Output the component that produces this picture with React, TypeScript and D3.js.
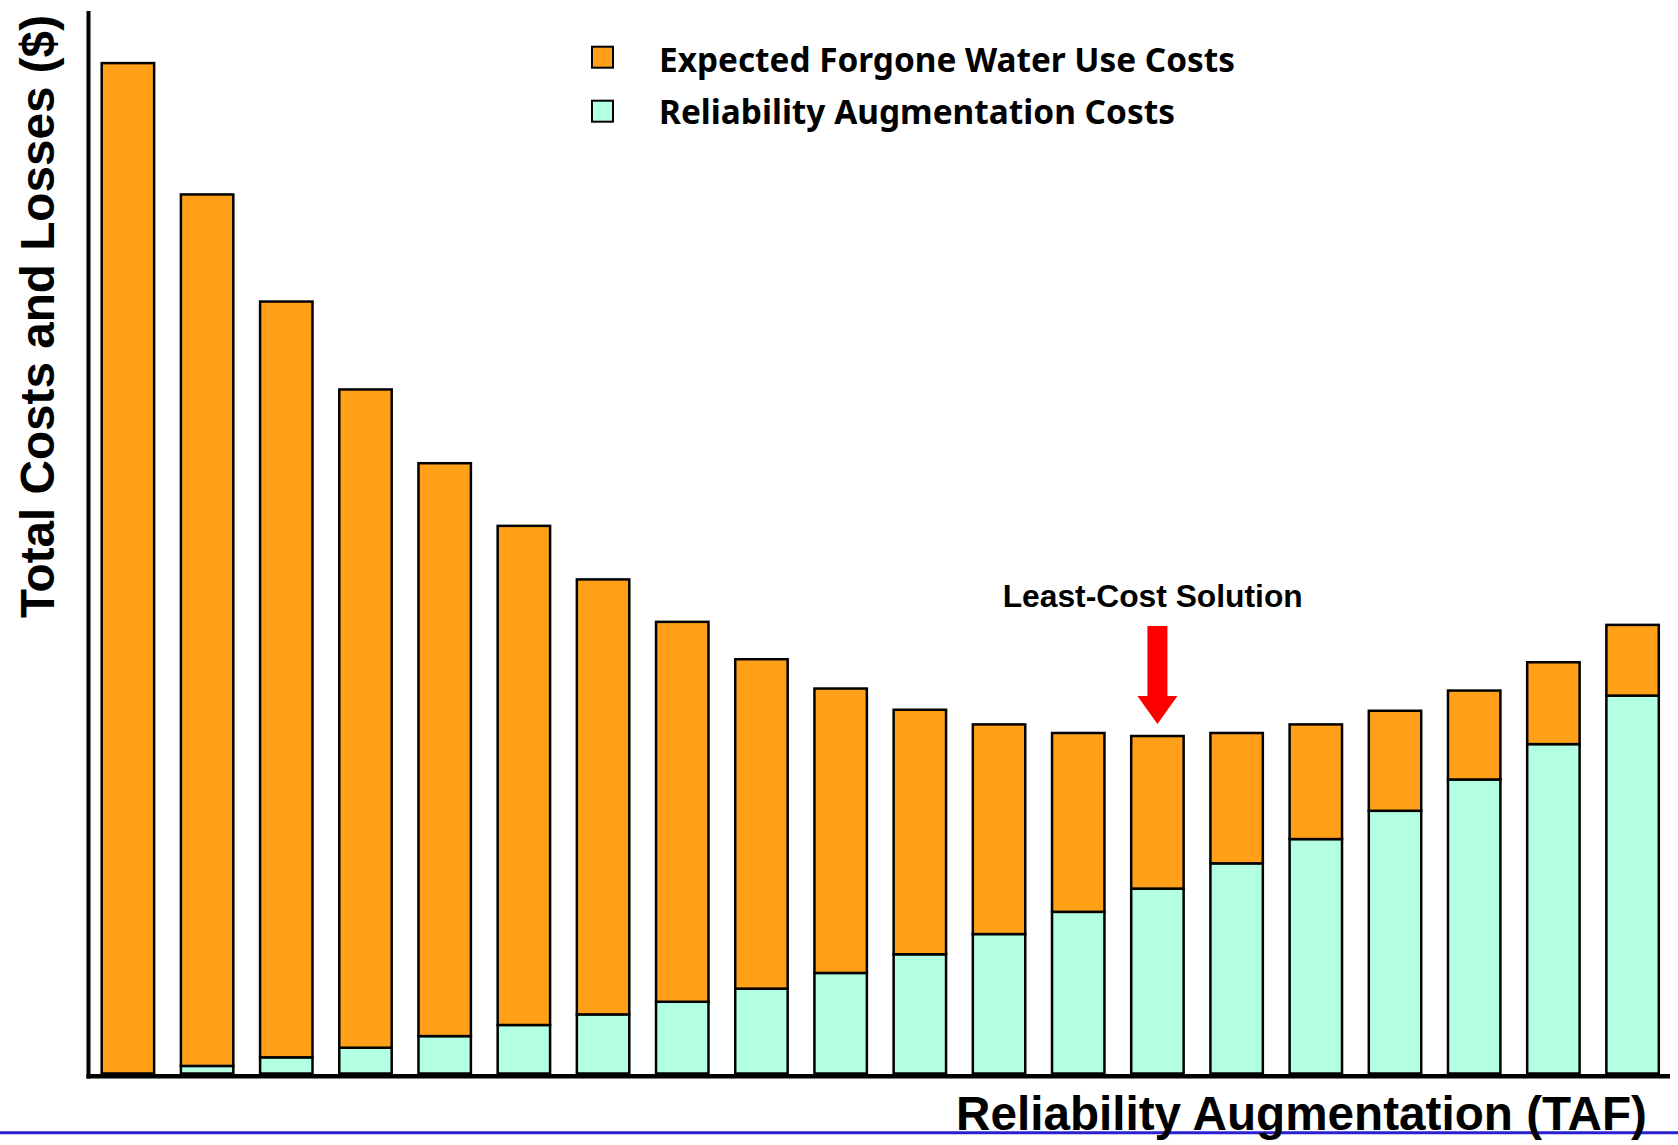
import React from "react";
import * as d3 from "d3";

// Cost components per augmentation level (arbitrary $ units, first total = 100)
const augmentationCosts = [
  0, 0.75, 1.6, 2.55, 3.7, 4.8, 5.85, 7.1, 8.4, 9.95,
  11.8, 13.8, 16.0, 18.3, 20.8, 23.2, 26.0, 29.1, 32.6, 37.4,
];
const forgoneCosts = [
  100, 86.25, 74.8, 65.15, 56.7, 49.4, 43.05, 37.6, 32.6, 28.15,
  24.2, 20.75, 17.7, 15.1, 12.9, 11.35, 9.9, 8.8, 8.1, 7.0,
];
const augmentationLevels = augmentationCosts.map((_, i) => `L${i + 1}`);
const seriesKeys = ["augmentation", "forgone"];
const seriesLabels = ["Reliability Augmentation Costs", "Expected Forgone Water Use Costs"];
const seriesColors = ["#B3FFE2", "#FFA018"];
const annotationText = "Least-Cost Solution";
const xTitle = "Reliability Augmentation (TAF)";
const yTitle = "Total Costs and Losses ($)";

const W = 1678;
const H = 1145;
const baseY = 1073.5;
const topY = 63.1;

export default function App() {
  const rows = augmentationLevels.map((level, i) => ({
    level,
    augmentation: augmentationCosts[i],
    forgone: forgoneCosts[i],
  }));
  const stacked = d3.stack<any>().keys(seriesKeys)(rows);

  const x = d3
    .scaleBand<string>()
    .domain(augmentationLevels)
    .range([101.7, 1658.8])
    .paddingInner(0.338)
    .paddingOuter(0);
  const y = d3.scaleLinear().domain([0, 100]).range([baseY, topY]);

  const totals = rows.map((r) => r.augmentation + r.forgone);
  const minIdx = d3.minIndex(totals);
  const ax = (x(augmentationLevels[minIdx]) as number) + x.bandwidth() / 2;
  const tipY = y(totals[minIdx]) - 12;
  const headBase = tipY - 28;
  const shaftTop = tipY - 98;
  const arrow = [
    [ax - 10, shaftTop],
    [ax + 10, shaftTop],
    [ax + 10, headBase],
    [ax + 20, headBase],
    [ax, tipY],
    [ax - 20, headBase],
    [ax - 10, headBase],
  ];

  const legendFont = "'Noto Sans', 'Open Sans', sans-serif";
  const arialBold = "'Liberation Sans', Arial, sans-serif";

  return (
    <svg
      width={W}
      height={H}
      viewBox={`0 0 ${W} ${H}`}
      style={{ position: "absolute", left: 0, top: 0, display: "block", background: "#fff" }}
    >
      {/* stacked bars */}
      {stacked.map((layer, li) => (
        <g key={layer.key} fill={seriesColors[li]} stroke="#000" strokeWidth={2.5}>
          {layer.map((d: any, i: number) => (
            <rect
              key={i}
              x={x(d.data.level)}
              width={x.bandwidth()}
              y={y(d[1])}
              height={Math.max(0, y(d[0]) - y(d[1]))}
            />
          ))}
        </g>
      ))}

      {/* axes */}
      <line x1={88.5} x2={88.5} y1={11} y2={1078.5} stroke="#000" strokeWidth={4} />
      <line x1={86.5} x2={1670} y1={1076.3} y2={1076.3} stroke="#000" strokeWidth={4.5} />

      {/* baseline rule */}
      <line x1={0} x2={W} y1={1132.7} y2={1132.7} stroke="#2A20D2" strokeWidth={3} />

      {/* axis titles */}
      <text
        x={956}
        y={1130}
        fontFamily={arialBold}
        fontWeight="bold"
        fontSize={47.5}
        textLength={691}
        lengthAdjust="spacingAndGlyphs"
        fill="#000"
      >
        {xTitle}
      </text>
      <text
        transform="translate(54,618) rotate(-90)"
        fontFamily={arialBold}
        fontWeight="bold"
        fontSize={48}
        textLength={603}
        lengthAdjust="spacingAndGlyphs"
        fill="#000"
      >
        {yTitle}
      </text>

      {/* legend */}
      {[1, 0].map((si, row) => (
        <g key={si}>
          <rect
            x={592}
            y={46.7 + row * 54}
            width={21}
            height={21}
            fill={seriesColors[si]}
            stroke="#000"
            strokeWidth={2}
          />
          <text
            x={659}
            y={72 + row * 52.3}
            fontFamily={legendFont}
            fontWeight="bold"
            fontSize={34}
            textLength={row === 0 ? 576 : 516}
            lengthAdjust="spacingAndGlyphs"
            fill="#000"
          >
            {seriesLabels[si]}
          </text>
        </g>
      ))}

      {/* least-cost annotation */}
      <text
        x={1152.7}
        y={606.7}
        textAnchor="middle"
        fontFamily={arialBold}
        fontWeight="bold"
        fontSize={31.5}
        textLength={300}
        lengthAdjust="spacingAndGlyphs"
        fill="#000"
      >
        {annotationText}
      </text>
      <polygon points={arrow.map((p) => p.join(",")).join(" ")} fill="#FF0000" />
    </svg>
  );
}
